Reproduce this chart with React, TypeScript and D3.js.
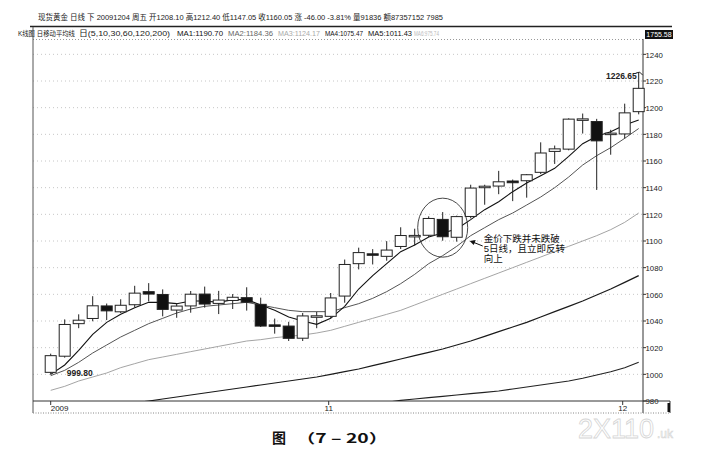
import * as d3 from "d3";

// candles (index 0 = first bar on the left)
const opens = [1001.5, 1013.6, 1038, 1041.9, 1051.3, 1046.9, 1052.2, 1062, 1059.9, 1048.2, 1051.3, 1060.2, 1053.2, 1055.4, 1057.5, 1052.5, 1037.1, 1036.2, 1027.1, 1043.7, 1043.5, 1058.7, 1083, 1090.4, 1088.5, 1095.9, 1103.9, 1104.3, 1116.2, 1102.8, 1118.4, 1140.2, 1141.2, 1145, 1145.2, 1151.5, 1167.2, 1168.9, 1191.4, 1189.6, 1180.6, 1180.3, 1197];
const highs = [1015.5, 1041.2, 1045, 1058.6, 1053.1, 1056.3, 1066.4, 1068.4, 1063.7, 1053, 1062.5, 1065.8, 1062.6, 1060.2, 1065.3, 1057.5, 1041.8, 1039.4, 1046, 1047, 1061, 1086.1, 1095, 1093.9, 1099.9, 1110.3, 1109.2, 1118.5, 1121.7, 1119, 1142.2, 1142.2, 1152.6, 1146.1, 1150.2, 1174, 1171.6, 1192, 1195.6, 1191.6, 1183.4, 1203, 1226.65];
const lows = [999.8, 1012.5, 1034.6, 1039.8, 1040.7, 1046, 1050.3, 1054.7, 1043.5, 1042.4, 1046.2, 1050, 1045.2, 1049, 1047.8, 1035.5, 1030.5, 1025, 1025, 1034.6, 1042.3, 1053.7, 1078.7, 1082.4, 1085.2, 1094, 1096.6, 1103, 1100.2, 1099.5, 1117, 1127.2, 1135.1, 1129.9, 1132.5, 1150.2, 1157.8, 1168, 1180.6, 1138.3, 1164.7, 1176.8, 1195];
const closes = [1014, 1037.4, 1040.6, 1051.4, 1047.6, 1051.8, 1060.9, 1060.2, 1048.7, 1051.2, 1060.1, 1052.7, 1055.7, 1057.8, 1054.1, 1036.2, 1036.9, 1027, 1043.8, 1043.9, 1057.3, 1082.4, 1091.3, 1090, 1093.2, 1104.1, 1104.2, 1116.9, 1103.2, 1118.3, 1139.7, 1141.1, 1144.4, 1143.7, 1149.7, 1166, 1169.1, 1191.4, 1191.6, 1175.1, 1180.9, 1196.1, 1214.5];

// moving averages
const ma5 = [1000, 1007, 1018, 1030, 1039, 1045, 1050, 1054, 1054, 1053, 1055, 1055, 1054, 1056, 1056, 1052, 1048, 1043, 1040, 1037.5, 1042, 1051, 1064, 1074, 1083, 1092, 1097, 1103, 1106, 1109, 1116, 1123.5, 1129.5, 1137, 1143.5, 1149, 1154.5, 1163.5, 1173, 1178.5, 1182, 1187, 1190.7];
const ma10 = [999, 1003, 1009, 1016, 1022, 1028, 1033, 1038, 1042, 1046, 1049, 1051, 1052, 1053, 1054, 1052, 1050, 1048, 1047, 1047, 1047, 1050, 1053, 1057, 1062, 1068, 1075, 1083, 1089, 1096, 1104, 1110, 1116, 1121, 1127, 1133, 1140, 1148, 1157, 1164, 1170, 1177, 1184.36];
const ma30 = [988, 991, 995, 998, 1001, 1005, 1008, 1011, 1013, 1015, 1017, 1019, 1021, 1023, 1025, 1026, 1027.5, 1028.5, 1029.5, 1031, 1033, 1036, 1039, 1042, 1045, 1048, 1052, 1056, 1060, 1064, 1068, 1072, 1076, 1080, 1084, 1088, 1092, 1096, 1100, 1104, 1108.5, 1114, 1121];
const ma60: (number | null)[] = [null, null, null, null, null, 977, 978.5, 980, 981.5, 983, 984.5, 986, 987.5, 989, 990.5, 992, 993.5, 995, 996.5, 998, 1000, 1002, 1004, 1006.5, 1009, 1011.5, 1014, 1016.5, 1019, 1022, 1025, 1028.5, 1032, 1035.5, 1039, 1043, 1047, 1051, 1055, 1059.5, 1064, 1069, 1074];
const ma120: (number | null)[] = [null, null, null, null, null, null, null, null, null, null, null, null, null, null, null, null, null, null, null, null, null, null, null, null, 979, 980.5, 981.5, 982.5, 983.5, 984.5, 985.5, 986.5, 987.5, 989, 990.5, 992, 993.5, 995, 997, 999.5, 1002, 1005, 1009];

const yTicks = [980, 1000, 1020, 1040, 1060, 1080, 1100, 1120, 1140, 1160, 1180, 1200, 1220, 1240];
const xTickIndex = [0, 20, 41];
const xTickText = ["2009", "11", "12"];

const titleText = "现货黄金 日线 下 20091204 周五 开1208.10 高1212.40 低1147.05 收1160.05 涨 -46.00 -3.81% 量91836 额87357152 7985";
const legendItems = ["K线图 日移动平均线", "日(5,10,30,60,120,200)", "MA1:1190.70", "MA2:1184.36", "MA3:1124.17", "MA4:1075.47", "MA5:1011.43", "MA6:975.74"];
const noteLines = ["金价下跌并未跌破", "5日线，且立即反转", "向上"];

const font = "'Liberation Sans', 'Noto Sans CJK SC', sans-serif";

const App = () => {
  const left = 33;
  const right = 643;
  const top = 39;
  const bottom = 401;

  const x = d3.scaleLinear().domain([0, closes.length - 1]).range([50.7, 638.7]);
  const y = d3.scaleLinear().domain([980, 1251.5]).range([bottom, top]);
  const bw = 11;

  const line = d3
    .line<number | null>()
    .defined((d) => d != null)
    .x((_, i) => x(i))
    .y((d) => y(d as number));

  const maLines = [
    { data: ma120, color: "#222", w: 1.1 },
    { data: ma60, color: "#1a1a1a", w: 1.25 },
    { data: ma30, color: "#9a9a9a", w: 0.9 },
    { data: ma10, color: "#555", w: 1 },
    { data: ma5, color: "#111", w: 1.1 },
  ];

  // legend segment placement and tone
  const legendX = [18, 79, 177, 228, 278, 325, 368, 414];
  const legendW = [57, 91, 46, 45, 42, 38, 44, 25];
  const legendF = [7.2, 8, 8, 8, 8, 8, 8, 7];
  const legendC = ["#222", "#222", "#111", "#666", "#aaa", "#111", "#111", "#bbb"];

  const last = closes.length - 1;
  const circleX = x(28);
  const circleY = y(1110);
  const tipX = x(30) - 1;
  const tipY = y(1100);

  return (
    <svg
      width={702}
      height={452}
      viewBox="0 0 702 452"
      style={{ position: "absolute", left: 0, top: 0, background: "#fff" }}
    >
      <defs>
        <clipPath id="plot">
          <rect x={left} y={top} width={right - left} height={bottom - top} />
        </clipPath>
      </defs>
      <rect width={702} height={452} fill="#fff" />

      {/* header */}
      <text x={38} y={20} fontSize={8} fontFamily={font} fill="#222" textLength={405} lengthAdjust="spacingAndGlyphs">
        {titleText}
      </text>
      <line x1={30} x2={672} y1={26.5} y2={26.5} stroke="#222" strokeWidth={1.5} />
      {legendItems.map((t, i) => (
        <text key={t} x={legendX[i]} y={36} fontSize={legendF[i]} fontFamily={font} fill={legendC[i]} textLength={legendW[i]} lengthAdjust="spacingAndGlyphs">
          {t}
        </text>
      ))}
      <line x1={left} x2={right} y1={top + 0.5} y2={top + 0.5} stroke="#999" strokeDasharray="1,2" />
      <rect x={645} y={30} width={28} height={9} fill="#111" />
      <text x={659} y={37.3} fontSize={7} fontFamily={font} fill="#fff" textAnchor="middle">
        1755.58
      </text>

      {/* grid */}
      {yTicks.slice(1).map((v) => (
        <line key={v} x1={left} x2={right} y1={y(v)} y2={y(v)} stroke="#b8b8b8" strokeWidth={0.8} strokeDasharray="1,3" />
      ))}

      {/* frame and axes */}
      <line x1={left} x2={left} y1={27} y2={413} stroke="#555" strokeWidth={1} />
      <line x1={right} x2={right} y1={top} y2={413} stroke="#333" strokeWidth={1} />
      <line x1={left} x2={670} y1={bottom} y2={bottom} stroke="#333" strokeWidth={1} />
      <line x1={left} x2={670} y1={413} y2={413} stroke="#888" strokeDasharray="1,1.5" />
      <line x1={670} x2={670} y1={bottom} y2={413} stroke="#333" />
      <rect x={667.5} y={403} width={2.5} height={9} fill="#111" />
      {yTicks.map((v) => (
        <g key={v}>
          <line x1={right} x2={right + 3} y1={y(v)} y2={y(v)} stroke="#333" />
          <text x={right + 2.5} y={y(v) + 3.2} fontSize={7.8} fontFamily={font} fill="#222">
            {v}
          </text>
        </g>
      ))}
      {xTickIndex.map((idx, i) => (
        <g key={idx}>
          <line x1={x(idx) - (i ? 2 : 0)} x2={x(idx) - (i ? 2 : 0)} y1={bottom} y2={bottom + 4} stroke="#333" />
          <text
            x={x(idx) - (i ? 2 : 0)}
            y={410.5}
            fontSize={8}
            fontFamily={font}
            fill="#222"
            textAnchor={i ? "middle" : "start"}
          >
            {xTickText[i]}
          </text>
        </g>
      ))}

      {/* moving averages */}
      <g clipPath="url(#plot)">
        {maLines.map((m, i) => (
          <path key={i} d={line(m.data) || ""} fill="none" stroke={m.color} strokeWidth={m.w} />
        ))}
      </g>

      {/* candles */}
      {closes.map((c, i) => {
        const o = opens[i];
        const up = c >= o;
        const yt = y(Math.max(o, c));
        const h = Math.max(1.5, y(Math.min(o, c)) - yt);
        return (
          <g key={i}>
            <line x1={x(i)} x2={x(i)} y1={y(highs[i])} y2={y(lows[i])} stroke="#222" strokeWidth={1} />
            <rect
              x={x(i) - bw / 2}
              y={yt}
              width={bw}
              height={h}
              fill={up ? "#fff" : "#111"}
              stroke="#222"
              strokeWidth={1}
            />
          </g>
        );
      })}

      {/* extreme labels */}
      <text x={x(0) + 16} y={y(lows[0]) + 1} fontSize={8.5} fontWeight="bold" fontFamily={font} fill="#222">
        {lows[0].toFixed(2)}
      </text>
      <text x={x(last) - 2} y={y(highs[last]) + 7} fontSize={8.5} fontWeight="bold" fontFamily={font} fill="#222" textAnchor="end">
        {highs[last].toFixed(2)}
      </text>
      <path
        d={`M${x(last) - 3},${y(highs[last]) + 1}L${x(last) + 1},${y(highs[last])}L${x(last) + 4},${y(highs[last]) + 3}`}
        fill="none"
        stroke="#222"
      />

      {/* annotation */}
      <ellipse cx={circleX} cy={circleY} rx={25} ry={29.5} fill="none" stroke="#333" strokeWidth={0.9} />
      <line x1={tipX + 13} y1={tipY + 5} x2={tipX + 3} y2={tipY + 1} stroke="#111" strokeWidth={1} />
      <path d={`M${tipX},${tipY}L${tipX + 6},${tipY - 1}L${tipX + 4},${tipY + 4}Z`} fill="#111" />
      {noteLines.map((t, i) => (
        <text key={t} x={tipX + 14} y={tipY + 1 + i * 10} fontSize={9.5} fontFamily={font} fill="#111">
          {t}
        </text>
      ))}

      {/* caption */}
      <text x={272} y={443} fontSize={14} fontWeight="bold" fontFamily="'Noto Sans CJK SC', sans-serif" fill="#111">
        图
      </text>
      <text x={296} y={443} fontSize={13} fontWeight="bold" fontFamily="'Noto Sans CJK SC', sans-serif" fill="#111" textLength={92} lengthAdjust="spacingAndGlyphs">
        （7 – 20）
      </text>

      {/* watermark */}
      <text x={578} y={438} fontSize={27} fontFamily={font} fill="none" stroke="#d6d6d6" strokeWidth={0.8}>
        2X110
      </text>
      <text x={657} y={438} fontSize={12} fontFamily={font} fill="none" stroke="#d6d6d6" strokeWidth={0.6}>
        .uk
      </text>
    </svg>
  );
};

export default App;
